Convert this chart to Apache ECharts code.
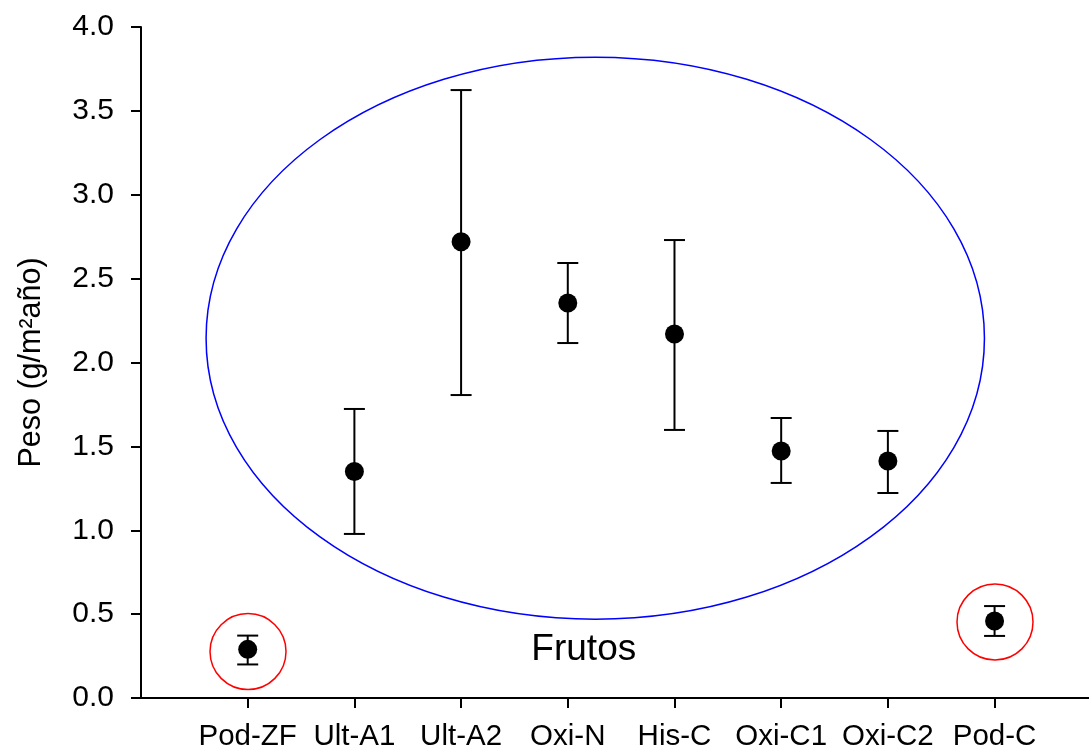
<!DOCTYPE html>
<html>
<head>
<meta charset="utf-8">
<script src="https://cdn.jsdelivr.net/npm/echarts@6/dist/echarts.min.js"></script>
<style>
html,body{margin:0;padding:0;background:#fff;}
#c{width:1089px;height:753px;}
</style>
</head>
<body>
<div id="c"></div>
<script>
// ---- data ----
const categories = ['Pod-ZF','Ult-A1','Ult-A2','Oxi-N','His-C','Oxi-C1','Oxi-C2','Pod-C'];
const catPos = [1,2,3,4,5,6,7,8];
const meanValues = [0.29, 1.35, 2.72, 2.355, 2.17, 1.472, 1.413, 0.459];
const errLow  = [0.20, 0.978, 1.806, 2.116, 1.598, 1.282, 1.222, 0.37];
const errHigh = [0.372, 1.723, 3.624, 2.593, 2.73, 1.669, 1.592, 0.548];
const yTicks = [0,0.5,1,1.5,2,2.5,3,3.5,4];
// annotation: blue ellipse bounding box in data units [xMin, xMax, yMin, yMax]
const ellipseBox = [0.61, 7.905, 0.47, 3.82];
// red circles: centers in data units
const circleCenters = [[1.003, 0.277], [8.004, 0.453]];
// text label "Frutos" location in data units
const labelText = 'Frutos';
const labelPos = [4.15, 0.285];
const yName = 'Peso (g/m²año)';

const FONT = 'Liberation Sans, Arial, sans-serif';
const chart = echarts.init(document.getElementById('c'));

const seriesData = catPos.map((x,i)=>[x, meanValues[i]]);
const errData = catPos.map((x,i)=>[x, errLow[i], errHigh[i]]);

chart.setOption({
  animation:false,
  backgroundColor:'#fff',
  grid:{left:141, top:27, right:0, bottom:55, containLabel:false},
  xAxis:[{
    type:'value', min:0, max:8.885, position:'bottom',
    axisLine:{show:true, onZero:false, lineStyle:{color:'#000', width:2}},
    axisTick:{show:true, length:10, customValues:catPos, lineStyle:{color:'#000', width:2}},
    axisLabel:{customValues:catPos, formatter:(v)=>categories[Math.round(v)-1]||'', color:'#000', fontFamily:FONT, fontSize:29.5, margin:24},
    splitLine:{show:false}
  },{
    type:'value', min:0, max:8.885, position:'top',
    axisLine:{show:true, lineStyle:{color:'#000', width:2}},
    axisTick:{show:false}, axisLabel:{show:false}, splitLine:{show:false}
  }],
  yAxis:{
    type:'value', min:0, max:4, interval:0.5,
    axisLine:{show:true, lineStyle:{color:'#000', width:2}},
    axisTick:{show:true, length:10, lineStyle:{color:'#000', width:2}},
    axisLabel:{formatter:(v)=>v.toFixed(1), color:'#000', fontFamily:FONT, fontSize:30, margin:27},
    splitLine:{show:false},
    name:yName, nameLocation:'middle', nameRotate:90, nameGap:94,
    nameTextStyle:{fontFamily:FONT, fontSize:30.5, color:'#000'}
  },
  series:[
    {
      type:'custom', name:'ellipse', data:[ellipseBox], silent:true, z:1,
      renderItem:(params, api)=>{
        const p1 = api.coord([api.value(0), api.value(2)]);
        const p2 = api.coord([api.value(1), api.value(3)]);
        const cx=(p1[0]+p2[0])/2, cy=(p1[1]+p2[1])/2;
        const rx=Math.abs(p2[0]-p1[0])/2, ry=Math.abs(p2[1]-p1[1])/2;
        return {type:'ellipse', shape:{cx, cy, rx, ry}, style:{fill:'none', stroke:'#0000ff', lineWidth:1.5}};
      }
    },
    {
      type:'custom', name:'circles', data:circleCenters, silent:true, z:1,
      renderItem:(params, api)=>{
        const p = api.coord([api.value(0), api.value(1)]);
        return {type:'circle', shape:{cx:p[0], cy:p[1], r:38}, style:{fill:'none', stroke:'#ff0000', lineWidth:1.5}};
      }
    },
    {
      type:'custom', name:'label', data:[labelPos], silent:true, z:3,
      renderItem:(params, api)=>{
        const p = api.coord([api.value(0), api.value(1)]);
        return {type:'text', x:p[0], y:p[1], style:{text:labelText, fontFamily:FONT, fontSize:37, fill:'#000', align:'center', verticalAlign:'middle'}};
      }
    },
    {
      type:'custom', name:'err', data:errData, z:2,
      renderItem:(params, api)=>{
        const x = api.value(0);
        const lo = api.coord([x, api.value(1)]);
        const hi = api.coord([x, api.value(2)]);
        const hw = 10.5;
        const st = {stroke:'#000', lineWidth:2};
        return {type:'group', children:[
          {type:'line', shape:{x1:lo[0], y1:lo[1], x2:hi[0], y2:hi[1]}, style:st},
          {type:'line', shape:{x1:lo[0]-hw, y1:lo[1], x2:lo[0]+hw, y2:lo[1]}, style:st},
          {type:'line', shape:{x1:hi[0]-hw, y1:hi[1], x2:hi[0]+hw, y2:hi[1]}, style:st}
        ]};
      }
    },
    {
      type:'scatter', name:'mean', data:seriesData, symbol:'circle', symbolSize:19, z:4,
      itemStyle:{color:'#000', opacity:1}
    }
  ]
});
</script>
</body>
</html>
